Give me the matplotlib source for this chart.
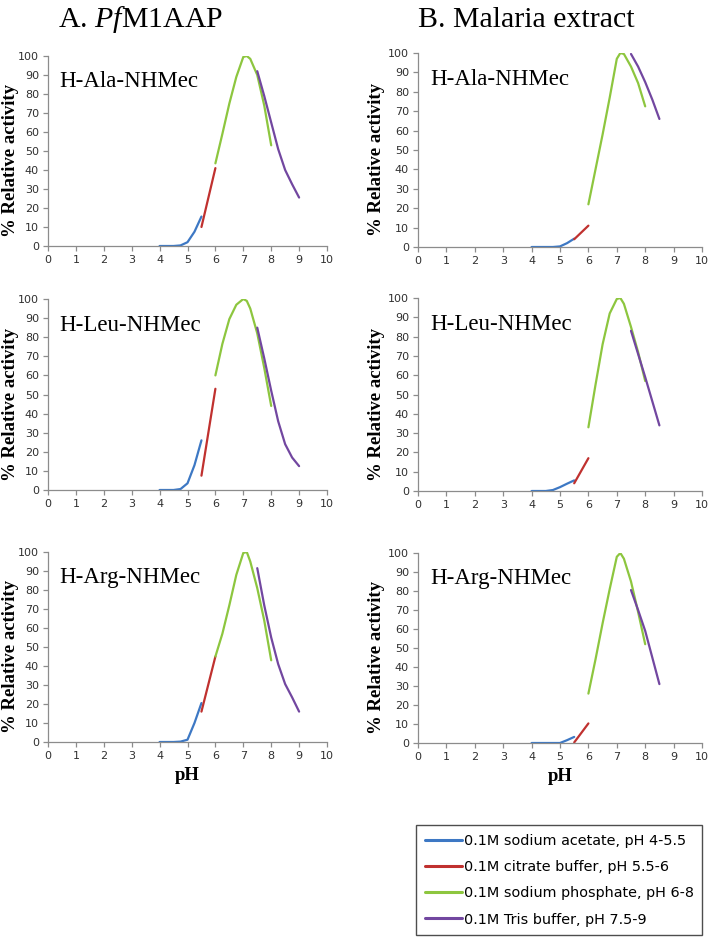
import matplotlib
matplotlib.use("Agg")
import matplotlib.pyplot as plt

plt.rcParams['mathtext.fontset'] = 'custom'
plt.rcParams['mathtext.rm'] = 'Liberation Serif'
plt.rcParams['mathtext.it'] = 'Liberation Serif:italic'

# pH grids for each buffer
ph_acetate = [4, 4.25, 4.5, 4.75, 5, 5.25, 5.5]
ph_citrate = [5.5, 6]
ph_phosphate = [6, 6.25, 6.5, 6.75, 7, 7.125, 7.25, 7.5, 7.75, 8]
ph_tris_a = [7.5, 7.75, 8, 8.25, 8.5, 8.75, 9]
ph_tris_b = [7.5, 7.75, 8, 8.25, 8.5]

substrates = ['H-Ala-NHMec', 'H-Leu-NHMec', 'H-Arg-NHMec']
buffer_labels = ['0.1M sodium acetate, pH 4-5.5',
                 '0.1M citrate buffer, pH 5.5-6',
                 '0.1M sodium phosphate, pH 6-8',
                 '0.1M Tris buffer, pH 7.5-9']

# A. PfM1AAP  (% relative activity)
a_acetate = [[0, 0, 0, 0.3, 2, 7.5, 15.5],
             [0, 0, 0, 0.5, 3.5, 13, 26],
             [0, 0, 0, 0.2, 1.2, 10, 20.5]]
a_citrate = [[10, 41],
             [7.5, 53],
             [16, 45]]
a_phosphate = [[43.5, 59, 75, 89, 99.5, 100, 98.5, 90, 74, 53],
               [60, 76.5, 89.5, 97, 100, 99, 95, 82, 64, 44],
               [45, 57, 72, 88, 99.5, 100, 95, 81, 64, 43]]
a_tris = [[92, 79, 65, 51, 40, 32.5, 25.5],
          [85, 69, 52, 36, 24, 17, 12.5],
          [91.5, 72, 55, 41, 30.5, 23.5, 16]]

# B. Malaria extract
b_acetate = [[0, 0, 0, 0, 0.3, 2, 4.3],
             [0, 0, 0, 0.5, 2, 3.8, 5.5],
             [0, 0, 0, 0, 0, 1.5, 3.2]]
b_citrate = [[4, 11],
             [4, 17],
             [0.3, 10.3]]
b_phosphate = [[22, 40, 58, 77, 97, 100, 99.5, 93, 84.5, 72.5],
               [33, 55, 76, 92, 99.5, 100, 97, 85, 72, 57],
               [26, 44, 63, 81, 98, 100, 97, 85, 69, 52]]
b_tris = [[99.5, 93, 85, 76, 66],
          [83, 71, 59, 46.5, 34],
          [80.5, 70, 59, 45, 31]]

colors = ['#3D78C4', '#C0312F', '#8DC63F', '#7247A0']
axis_gray = '#8C8C8C'
tick_font = ['Liberation Sans Narrow', 'DejaVu Sans']

fig = plt.figure(figsize=(7.08, 9.47), dpi=100)

col_left = [48 / 708, 418 / 708]
col_width = [279 / 708, 284 / 708]
row_bottom = [[1 - 246 / 947, 1 - 490 / 947, 1 - 742 / 947],
              [1 - 247 / 947, 1 - 491 / 947, 1 - 743 / 947]]
row_height = [[190 / 947, 191 / 947, 190 / 947],
              [194 / 947, 193 / 947, 190 / 947]]
ylabel_x = [-0.105, -0.115]

panels = [(a_acetate, a_citrate, a_phosphate, a_tris, ph_tris_a),
          (b_acetate, b_citrate, b_phosphate, b_tris, ph_tris_b)]

lines = []
for c, (acet, citr, phos, tris, ph_tris) in enumerate(panels):
    for r in range(3):
        ax = fig.add_axes([col_left[c], row_bottom[c][r], col_width[c], row_height[c][r]])
        l1, = ax.plot(ph_acetate, acet[r], color=colors[0], lw=1.6, solid_capstyle='round')
        l2, = ax.plot(ph_citrate, citr[r], color=colors[1], lw=1.6, solid_capstyle='round')
        l3, = ax.plot(ph_phosphate, phos[r], color=colors[2], lw=1.6, solid_capstyle='round')
        l4, = ax.plot(ph_tris, tris[r], color=colors[3], lw=1.6, solid_capstyle='round')
        lines = [l1, l2, l3, l4]

        ax.set_xlim(0, 10)
        ax.set_ylim(0, 100)
        ax.set_xticks(range(0, 11))
        ax.set_yticks(range(0, 101, 10))
        for s in ['top', 'right']:
            ax.spines[s].set_visible(False)
        for s in ['left', 'bottom']:
            ax.spines[s].set_color(axis_gray)
            ax.spines[s].set_linewidth(0.9)
        ax.tick_params(direction='out', length=3.5, width=0.9, color=axis_gray,
                       labelsize=8, labelcolor='#303030', pad=3)
        for lab in ax.get_xticklabels() + ax.get_yticklabels():
            lab.set_family(tick_font)
        ax.set_ylabel('% Relative activity', family='Liberation Serif',
                      fontweight='bold', fontsize=13.5)
        ax.yaxis.set_label_coords(ylabel_x[c], 0.45)
        ax.text(0.42, 83.5, substrates[r], family='Liberation Serif',
                fontsize=16.5, va='baseline', ha='left')
        if r == 2:
            ax.set_xlabel('pH', family='Liberation Serif', fontweight='bold',
                          fontsize=13.5, labelpad=4)

fig.text(58 / 708, 1 - 27 / 947, r'A. $\mathit{Pf}$M1AAP', family='Liberation Serif',
         fontsize=21.5, va='baseline', ha='left')
fig.text(418 / 708, 1 - 27 / 947, 'B. Malaria extract', family='Liberation Serif',
         fontsize=21.5, va='baseline', ha='left')

leg = fig.legend(lines, buffer_labels, loc='upper left',
                 bbox_to_anchor=(416 / 708, 1 - 825 / 947), borderaxespad=0,
                 prop={'family': 'DejaVu Sans', 'size': 10.4},
                 frameon=True, fancybox=False, edgecolor='#222222',
                 handlelength=2.6, handletextpad=0.1, labelspacing=0.85,
                 borderpad=0.6)
leg.get_frame().set_linewidth(1.0)
for h in leg.get_lines():
    h.set_linewidth(2.2)

fig.savefig('out.png', dpi=100)
